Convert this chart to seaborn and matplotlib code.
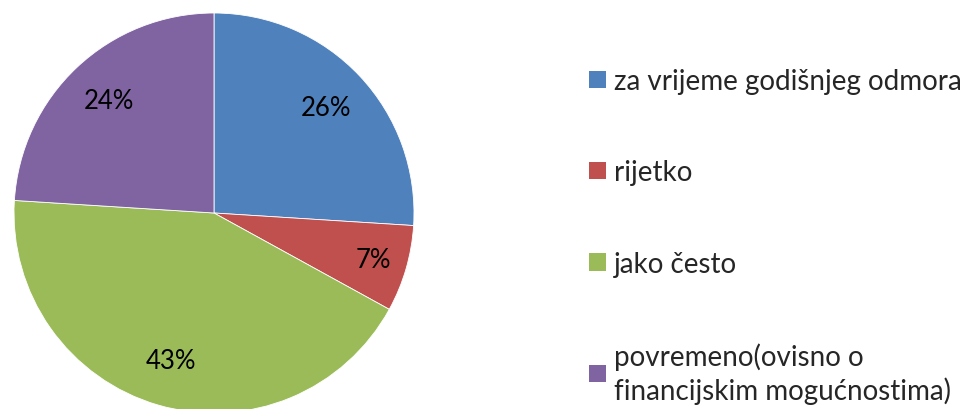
import matplotlib
matplotlib.use("Agg")
import matplotlib.pyplot as plt
import seaborn as sns
from matplotlib.patches import Patch

sns.set_theme(style="white")
plt.rcParams['font.family'] = ['Lato', 'DejaVu Sans']

categories = ["za vrijeme godišnjeg odmora", "rijetko", "jako često",
              "povremeno(ovisno o\nfinancijskim mogućnostima)"]
values = [26, 7, 43, 24]
colors = ["#4F81BD", "#C0504D", "#9BBB59", "#8064A2"]

W, H = 975, 410
fig = plt.figure(figsize=(W / 100, H / 100), dpi=100)
fig.patch.set_facecolor("white")

cx, cy, r = 214, 410 - 214, 200
ax = fig.add_axes([(cx - r) / W, (cy - r) / H, 2 * r / W, 2 * r / H])
wedges, texts, autotexts = ax.pie(
    values, colors=colors, startangle=90, counterclock=False,
    autopct=lambda p: f"{p:.0f}%", pctdistance=0.77,
    wedgeprops=dict(edgecolor="white", linewidth=0.6),
    textprops=dict(fontsize=18.5, color="black"))
# small slice label sits a little further out
x, y = autotexts[1].get_position()
autotexts[1].set_position((x * 0.83 / 0.77, y * 0.83 / 0.77))
ax.set_xlim(-1, 1)
ax.set_ylim(-1, 1)
ax.set_aspect("equal")
ax.axis("off")

handles = [Patch(facecolor=c, edgecolor="none") for c in colors]
leg = fig.legend(handles, categories, loc="upper left",
                 bbox_to_anchor=(578 / W, 1 - 58 / H), frameon=False,
                 fontsize=20, labelspacing=2.35, handlelength=0.6,
                 handleheight=0.6, handletextpad=0.3, borderaxespad=0)
for t in leg.get_texts():
    t.set_linespacing(1.3)

fig.savefig("out.png", dpi=100)
